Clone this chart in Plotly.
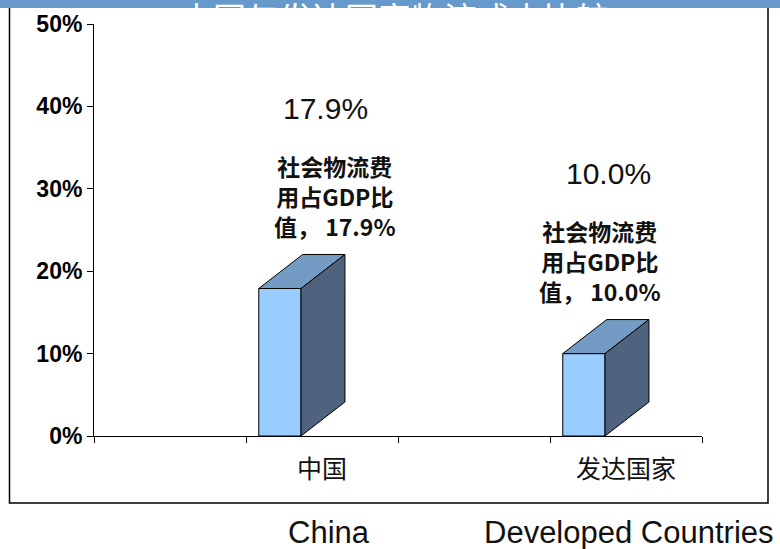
import plotly.graph_objects as go

# ---------------- data ----------------
categories = ["中国", "发达国家"]
english_names = ["China", "Developed Countries"]
values = [17.9, 10.0]                 # logistics cost as % of GDP
y_tick_vals = [0, 10, 20, 30, 40, 50]
y_tick_text = ["0%", "10%", "20%", "30%", "40%", "50%"]
title_text = "中国与发达国家物流成本比较"

# ---------------- geometry / style ----------------
W, H = 780, 549
ML, MR, MT, MB = 94, 78, 24, 113
PW, PH = W - ML - MR, H - MT - MB


def px_x(px):
    return (px - ML) / PW


def px_y(py):
    return (H - MB - py) / PH


cat_pos = [2 * i + 1.5 for i in range(len(categories))]   # category centres on a 0..4 axis
BAR_OFF = -0.277
BAR_W = 0.278
DX = 0.289     # 3-D depth, x (data units)
DY = 4.13      # 3-D depth, y (data units)
FRONT = "#99CCFF"
TOP = "#739BC3"
SIDE = "#4F637E"
value_dx = [0.025, -0.113]
note_dx = [0.088, -0.17]
eng_dx = [0.045, 0.02]

fig = go.Figure()

fig.add_trace(go.Bar(
    x=[c + BAR_OFF for c in cat_pos], y=values, width=BAR_W,
    marker=dict(color=FRONT, line=dict(color="black", width=1)),
    showlegend=False, hoverinfo="skip",
))

for c, v in zip(cat_pos, values):
    x0 = c + BAR_OFF - BAR_W / 2
    x1 = x0 + BAR_W
    fig.add_trace(go.Scatter(
        x=[x0, x1, x1 + DX, x0 + DX, x0], y=[v, v, v + DY, v + DY, v],
        mode="lines", fill="toself", fillcolor=TOP,
        line=dict(color="black", width=1), showlegend=False, hoverinfo="skip",
    ))
    fig.add_trace(go.Scatter(
        x=[x1, x1 + DX, x1 + DX, x1, x1], y=[0, DY, v + DY, v, 0],
        mode="lines", fill="toself", fillcolor=SIDE,
        line=dict(color="black", width=1), showlegend=False, hoverinfo="skip",
    ))

annotations = []
for i, (c, v) in enumerate(zip(cat_pos, values)):
    annotations.append(dict(
        x=c + value_dx[i], y=v + 21.8, xref="x", yref="y",
        text=f"{v:.1f}%", showarrow=False,
        font=dict(family="Liberation Sans, Arial", size=30, color="#111111"),
    ))
    annotations.append(dict(
        x=c + note_dx[i], y=v + 11.2, xref="x", yref="y",
        text=f"社会物流费<br>用占GDP比<br>值， {v:.1f}%", showarrow=False,
        align="center",
        font=dict(family="Noto Sans CJK SC", size=23, color="#111111", weight="bold"),
    ))
    annotations.append(dict(
        x=c + eng_dx[i], y=px_y(552), xref="x", yref="paper",
        text=english_names[i], showarrow=False,
        font=dict(family="Liberation Sans, Arial", size=31, color="#111111"),
    ))

annotations.append(dict(
    x=px_x(394), y=px_y(-9), xref="paper", yref="paper",
    text=title_text, showarrow=False,
    font=dict(family="Noto Sans CJK SC", size=33, color="white"),
))

shapes = [
    dict(type="rect", xref="paper", yref="paper",
         x0=px_x(9.5), x1=px_x(768), y0=px_y(503), y1=px_y(4),
         line=dict(color="black", width=1.5), fillcolor="rgba(0,0,0,0)", layer="below"),
    dict(type="rect", xref="paper", yref="paper",
         x0=px_x(-5), x1=px_x(790), y0=px_y(8), y1=px_y(-5),
         line=dict(width=0), fillcolor="#6699CC", layer="above"),
]

fig.update_layout(
    width=W, height=H,
    margin=dict(l=ML, r=MR, t=MT, b=MB),
    paper_bgcolor="white", plot_bgcolor="white",
    showlegend=False,
    annotations=annotations,
    shapes=shapes,
    xaxis=dict(
        range=[0, 4], showline=True, linecolor="black", linewidth=1,
        tickmode="array", tickvals=cat_pos, ticktext=categories, ticks="",
        ticklabelstandoff=11,
        tickfont=dict(family="Noto Sans CJK SC", size=25, color="#111111"),
        minor=dict(tickmode="array", tickvals=[0, 1, 2, 3, 4], ticks="outside",
                   ticklen=6, tickcolor="black", tickwidth=1, showgrid=False),
        showgrid=False, zeroline=False, fixedrange=True,
    ),
    yaxis=dict(
        range=[0, 50], showline=True, linecolor="black", linewidth=1,
        tickmode="array", tickvals=y_tick_vals, ticktext=y_tick_text,
        ticks="outside", ticklen=6, tickcolor="black",
        tickfont=dict(family="Liberation Sans, Arial", size=23, color="black", weight="bold"),
        showgrid=False, zeroline=False, fixedrange=True,
    ),
)

fig.write_html(
    "out.html",
    config={"displayModeBar": False},
    post_script="document.body.style.margin='0';document.body.style.overflow='hidden';",
)
